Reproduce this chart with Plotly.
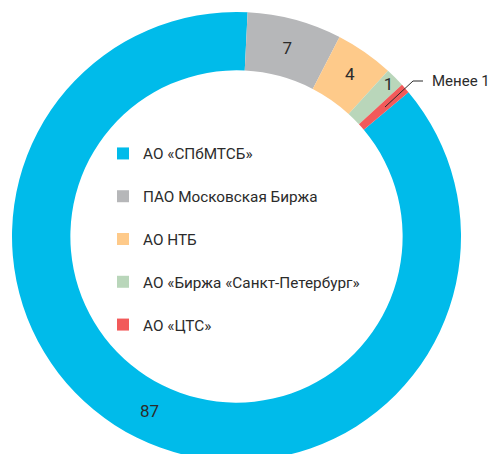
import plotly.graph_objects as go

categories = ["АО «СПбМТСБ»", "ПАО Московская Биржа", "АО НТБ",
              "АО «Биржа «Санкт-Петербург»", "АО «ЦТС»"]
values = [86.9, 6.8, 4.2, 1.4, 0.7]
value_labels = ["87", "7", "4", "1", ""]
small_label = "Менее 1"
colors = ["#00BBEA", "#B6B7B9", "#FECA8A", "#B9D6BA", "#F25A5A"]

W, H = 489, 473

fig = go.Figure(go.Pie(
    labels=[c + "<br>\u00a0" for c in categories],
    values=values,
    text=value_labels,
    textinfo="text",
    textposition="inside",
    insidetextorientation="horizontal",
    textfont=dict(family="Roboto", size=17, color="#2b2b2b"),
    marker=dict(colors=colors, line=dict(width=0)),
    hole=0.74,
    sort=False,
    direction="clockwise",
    rotation=50,
    domain=dict(x=[12 / W, 461 / W], y=[0, 1]),
    hoverinfo="label+value",
))

# leader line for the smallest slice
fig.add_shape(type="path",
              path=f"M {423/W} {1-81/H} L {413/W} {1-81/H} L {385/W} {1-107/H}",
              xref="paper", yref="paper",
              line=dict(color="#2b2b2b", width=1))
fig.add_annotation(text=small_label, x=430 / W, y=1 - 81 / H,
                   xref="paper", yref="paper", xanchor="left", yanchor="middle",
                   showarrow=False,
                   font=dict(family="Roboto", size=15, color="#2b2b2b"))

fig.update_layout(
    width=W, height=H,
    margin=dict(l=0, r=0, t=0, b=0),
    paper_bgcolor="white",
    uniformtext=dict(minsize=17, mode="show"),
    showlegend=True,
    legend=dict(x=103 / W, y=1 - 137 / H, xanchor="left", yanchor="top",
                valign="top", bgcolor="rgba(0,0,0,0)",
                font=dict(family="Roboto", size=15.3, color="#2b2b2b")),
)

fig.write_html(
    "out.html",
    config={"displayModeBar": False},
    post_script="document.body.style.margin='0';document.body.style.overflow='hidden';",
)
